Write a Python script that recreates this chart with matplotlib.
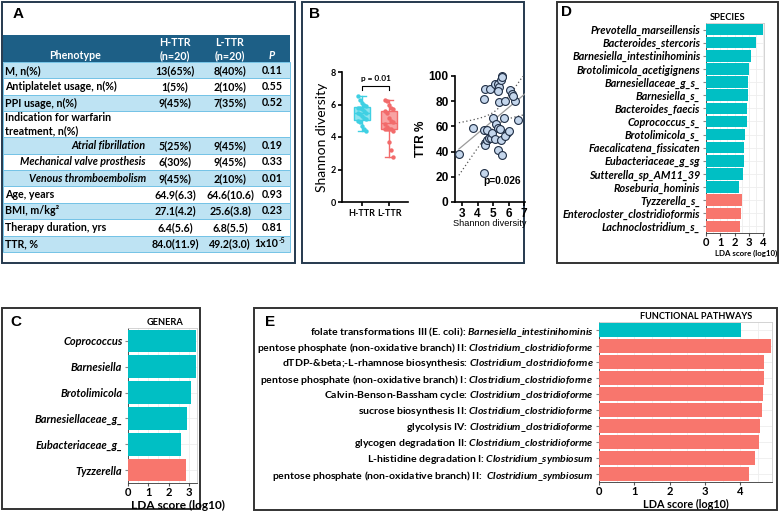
import matplotlib.pyplot as plt
from matplotlib.patches import Rectangle
import numpy as np

plt.rcParams['mathtext.fontset'] = 'custom'
plt.rcParams['mathtext.it'] = 'Lato:italic:bold'
plt.rcParams['mathtext.rm'] = 'Lato:bold'
plt.rcParams['mathtext.bf'] = 'Lato:bold'

W, H = 779, 512
TEAL = '#00BFC4'
SALMON = '#F8766D'

# ---- panel A table ----
phenotype = ["M, n(%)", "Antiplatelet usage, n(%)", "PPI usage, n(%)",
             "Indication for warfarin\ntreatment, n(%)", "Atrial fibrillation",
             "Mechanical valve prosthesis", "Venous thromboembolism", "Age, years",
             "BMI, m/kg\u00b2", "Therapy duration, yrs", "TTR, %"]
sub_item = [False, False, False, False, True, True, True, False, False, False, False]
h_ttr = ["13(65%)", "1(5%)", "9(45%)", "", "5(25%)", "6(30%)", "9(45%)",
         "64.9(6.3)", "27.1(4.2)", "6.4(5.6)", "84.0(11.9)"]
l_ttr = ["8(40%)", "2(10%)", "7(35%)", "", "9(45%)", "9(45%)", "2(10%)",
         "64.6(10.6)", "25.6(3.8)", "6.8(5.5)", "49.2(3.0)"]
p_vals = ["0.11", "0.55", "0.52", "", "0.19", "0.33", "0.01", "0.93", "0.23", "0.81", "1x10"]

# ---- panel B ----
groups = ["H-TTR", "L-TTR"]
shannon_h = [6.5, 6.3, 6.1, 6.0, 5.9, 5.8, 5.8, 5.7, 5.6, 5.5, 5.5, 5.4, 5.3, 5.2, 5.1,
             5.0, 4.9, 4.7, 4.5, 4.4]
shannon_l = [6.3, 6.2, 6.0, 5.8, 5.7, 5.6, 5.5, 5.2, 5.0, 4.9, 4.8, 4.6, 4.5, 4.5, 4.4,
             4.5, 4.5, 3.7, 3.2, 2.8]
div_x = [2.83, 3.7, 4.4, 4.45, 4.5, 4.8, 4.4, 4.6, 4.5, 4.5, 4.6, 4.75, 4.9, 4.95, 5.0,
         5.1, 5.2, 5.3, 5.35, 5.45, 5.5, 5.6, 5.15, 5.35, 5.4, 5.3, 5.55, 5.5, 5.6, 5.4,
         5.7, 5.8, 5.9, 5.8, 6.0, 6.1, 6.2, 6.4, 6.3, 6.6]
ttr_y = [38, 59, 23, 82, 90, 90, 57, 57, 47, 45, 49, 51, 51, 55, 67, 50, 62, 41, 59, 58,
         49, 37, 94, 94, 91, 88, 100, 97, 99, 79, 67, 80, 55, 52, 56, 89, 86, 80, 84, 65]

# ---- panel C ----
genera = ["Coprococcus", "Barnesiella", "Brotolimicola", "Barnesiellaceae_g_",
          "Eubacteriaceae_g_", "Tyzzerella"]
genera_lda = [3.36, 3.33, 3.1, 2.9, 2.6, 2.84]
genera_grp = ["H", "H", "H", "H", "H", "L"]

# ---- panel D ----
species = ["Prevotella_marseillensis", "Bacteroides_stercoris", "Barnesiella_intestinihominis",
           "Brotolimicola_acetigignens", "Barnesiellaceae_g_s_", "Barnesiella_s_",
           "Bacteroides_faecis", "Coprococcus_s_", "Brotolimicola_s_",
           "Faecalicatena_fissicaten", "Eubacteriaceae_g_sg", "Sutterella_sp_AM11_39",
           "Roseburia_hominis", "Tyzzerella_s_", "Enterocloster_clostridioformis",
           "Lachnoclostridium_s_"]
species_lda = [3.96, 3.5, 3.15, 3.03, 2.9, 2.9, 2.85, 2.85, 2.73, 2.66, 2.64, 2.6, 2.27,
               2.52, 2.43, 2.4]
species_grp = ["H"] * 13 + ["L"] * 3

# ---- panel E ----
pathways = ["folate transformations III (E. coli):",
            "pentose phosphate (non-oxidative branch) II:",
            "dTDP-&beta;-L-rhamnose biosynthesis:",
            "pentose phosphate (non-oxidative branch) I:",
            "Calvin-Benson-Bassham cycle:", "sucrose biosynthesis II:", "glycolysis IV:",
            "glycogen degradation II:", "L-histidine degradation I:",
            "pentose phosphate (non-oxidative branch) II: "]
pathway_taxa = ["Barnesiella_intestinihominis"] + ["Clostridium_clostridioforme"] * 7 + \
               ["Clostridium_symbiosum"] * 2
pathway_lda = [4.02, 4.87, 4.68, 4.66, 4.64, 4.63, 4.57, 4.53, 4.42, 4.26]
pathway_grp = ["H"] + ["L"] * 9


fig = plt.figure(figsize=(W / 100, H / 100), dpi=100)
bg = fig.add_axes([0, 0, 1, 1])
bg.set_xlim(0, W)
bg.set_ylim(H, 0)
bg.axis('off')

# groups of texts scaled so one sample text gets the pixel width seen in the reference
fit_groups = []


def px_ax(l, t, r, b):
    return fig.add_axes([l / W, 1 - b / H, (r - l) / W, (b - t) / H])


def box(l, t, r, b, color):
    bg.add_patch(Rectangle((l, t), r - l, b - t, fill=False, ec=color, lw=1.4))


box(2, 2, 295, 263, '#25394E')
box(302, 2, 524, 263, '#25394E')
box(557, 2, 778, 263, '#333333')
box(2, 308, 200, 509, '#333333')
box(254, 308, 777, 510, '#333333')

for lab, x, y in [("A", 18, 14), ("B", 315, 14), ("C", 16, 322), ("D", 567, 12), ("E", 270, 322)]:
    bg.text(x, y, lab, fontsize=11, fontweight='bold', family='Liberation Sans',
            ha='center', va='center')

# table
tx0, tx1 = 3, 290
col_h, col_l, col_p = 175, 230, 272
top = 35
head_h = 27
bg.add_patch(Rectangle((tx0, top), tx1 - tx0, head_h, color='#1D5F86', lw=0))
hk = dict(color='white', fontsize=7, fontweight='bold', family='Lato', ha='center')
table_txt = []
table_txt.append(bg.text(75, top + 20.5, "Phenotype", va='center', **hk))
for cx, g in [(col_h, "H-TTR"), (col_l, "L-TTR")]:
    table_txt.append(bg.text(cx, top + 7.5, g, va='center', **hk))
    table_txt.append(bg.text(cx, top + 20.5, "(n=20)", va='center', **hk))
table_txt.append(bg.text(col_p, top + 20.5, "P", va='center', fontstyle='italic', **hk))

y = top + head_h
tk = dict(fontsize=7, fontweight='bold', family='Lato', va='center', color='black')
sample_row = None
for i, ph in enumerate(phenotype):
    rh = 26 if "\n" in ph else 16.4
    shade = '#BEE3F3' if i % 2 == 0 else 'white'
    bg.add_patch(Rectangle((tx0, y), tx1 - tx0, rh, fc=shade, ec='#74C3E6', lw=0.7))
    yc = y + rh / 2
    if sub_item[i]:
        t = bg.text(146, yc, ph, ha='right', fontstyle='italic', **tk)
    else:
        t = bg.text(5, yc, ph, ha='left', linespacing=1.3, **tk)
    if i == 1:
        sample_row = t
    table_txt.append(t)
    table_txt.append(bg.text(col_h, yc, h_ttr[i], ha='center', **tk))
    table_txt.append(bg.text(col_l, yc, l_ttr[i], ha='center', **tk))
    if p_vals[i] == "1x10":
        table_txt.append(bg.text(col_p + 6, yc, p_vals[i], ha='right', **tk))
        bg.text(col_p + 6.5, yc - 3, "-5", ha='left', fontsize=5, fontweight='bold',
                family='Lato', va='center', color='black')
    else:
        table_txt.append(bg.text(col_p, yc, p_vals[i], ha='center', **tk))
    y += rh
fit_groups.append((table_txt, sample_row, 112, 'w'))

# ---- B: box plot ----
axb = px_ax(342, 72, 408, 202)
h_col, h_fill = '#3FD0E3', '#8FE4EF'
l_col, l_fill = '#F26B6B', '#F8A3A3'
bp = axb.boxplot([shannon_h, shannon_l], positions=[1, 2], widths=0.6, whis=(0, 100),
                 patch_artist=True, showfliers=False)
for k, (c, f) in enumerate([(h_col, h_fill), (l_col, l_fill)]):
    bp['boxes'][k].set(facecolor=f, edgecolor=c, lw=1)
    bp['medians'][k].set(color=c, lw=1)
    for w in bp['whiskers'][2 * k:2 * k + 2] + bp['caps'][2 * k:2 * k + 2]:
        w.set(color=c, lw=1)
for k, (vals, c) in enumerate([(shannon_h, h_col), (shannon_l, l_col)]):
    offs = [((i % 5) - 2) * 0.07 for i in range(len(vals))]
    axb.scatter([k + 1 + o for o in offs], vals, s=10, color=c, zorder=3, lw=0)
axb.set_xlim(0.26, 2.7)
axb.set_ylim(0, 8)
axb.set_yticks([0, 2, 4, 6, 8])
axb.set_xticks([1, 2])
axb.set_xticklabels(groups, fontsize=7, fontweight='bold', family='Lato')
axb.tick_params(axis='y', labelsize=7, width=1.2, length=3, pad=1.5)
axb.tick_params(axis='x', width=1.2, length=3, pad=2)
for t in axb.get_yticklabels():
    t.set_family('Lato')
    t.set_fontweight('bold')
axb.set_ylabel("Shannon diversity", fontsize=10, family='Lato', labelpad=2)
for s in ['top', 'right']:
    axb.spines[s].set_visible(False)
for s in ['left', 'bottom']:
    axb.spines[s].set_linewidth(1.2)
axb.plot([1, 1, 2, 2], [6.9, 7.15, 7.15, 6.9], color='black', lw=0.8, clip_on=False)
pt = axb.text(1.5, 7.6, "p = 0.01", ha='center', va='center', fontsize=6, fontweight='bold',
              family='Lato')
fit_groups.append((list(axb.get_xticklabels()) + list(axb.get_yticklabels()),
                   axb.get_xticklabels()[0], 27, 'w'))
fit_groups.append(([pt], pt, 30, 'w'))

# ---- B: scatter ----
axs = px_ax(455, 76, 525, 202)
axs.patch.set_alpha(0)
xs = np.array(div_x)
ys = np.array(ttr_y)
slope, icpt = np.polyfit(xs, ys, 1)
xg = np.linspace(2.8, 7.1, 60)
yg = slope * xg + icpt
n = len(xs)
resid = ys - (slope * xs + icpt)
s_err = np.sqrt(np.sum(resid ** 2) / (n - 2))
se = s_err * np.sqrt(1 / n + (xg - xs.mean()) ** 2 / np.sum((xs - xs.mean()) ** 2))
axs.plot(xg, yg, color='#9A9A9A', lw=0.9)
axs.plot(xg, yg + 2.024 * se, color='#555555', lw=0.9, ls=(0, (1, 2)))
axs.plot(xg, yg - 2.024 * se, color='#555555', lw=0.9, ls=(0, (1, 2)))
axs.scatter(xs, ys, s=32, facecolor='#C4D6EC', edgecolor='#1E2D44', lw=0.8, zorder=3,
            clip_on=False)
axs.set_xlim(2.55, 7.06)
axs.set_ylim(0, 100)
axs.set_xticks([3, 4, 5, 6, 7])
axs.set_yticks([0, 20, 40, 60, 80, 100])
axs.tick_params(labelsize=8, width=1.2, length=3, pad=1.5)
for t in axs.get_xticklabels() + axs.get_yticklabels():
    t.set_family('Liberation Sans')
    t.set_fontweight('bold')
for s in ['top', 'right']:
    axs.spines[s].set_visible(False)
for s in ['left', 'bottom']:
    axs.spines[s].set_linewidth(1.2)
axs.set_ylabel("TTR %", fontsize=8.5, fontweight='bold', family='Liberation Sans', labelpad=1)
axs.set_xlabel("Shannon diversity", fontsize=7.5, family='Liberation Sans', labelpad=-1)
pv = axs.text(4.35, 17, "p=0.026", fontsize=7.5, fontweight='bold', family='Liberation Sans',
              ha='left', va='center')
fit_groups.append((list(axs.get_xticklabels()) + list(axs.get_yticklabels()),
                   axs.get_yticklabels()[-1], 20, 'w'))
fit_groups.append(([axs.xaxis.label], axs.xaxis.label, 72, 'w'))
fit_groups.append(([pv], pv, 38, 'w'))


# ---- LDA bar panels ----
def lda_panel(ax, labels, vals, grp, xmax, xticks, title, title_x, xlab_x, xlab_fs):
    yy = np.arange(len(vals))
    cols = [TEAL if g == "H" else SALMON for g in grp]
    ax.barh(yy, vals, height=0.88, color=cols, zorder=3)
    ax.set_ylim(len(vals) - 0.5, -0.5)
    ax.set_xlim(0, xmax)
    ax.set_xticks(xticks)
    ax.set_xticks(np.arange(0.5, xmax, 1), minor=True)
    ax.set_yticks(yy)
    ax.set_yticklabels(labels, fontsize=7, fontweight='bold', fontstyle='italic',
                       family='Lato')
    ax.grid(which='both', color='#EEEEEE', lw=0.6, zorder=0)
    ax.tick_params(axis='y', length=2, color='#888888', pad=2)
    ax.tick_params(axis='x', which='major', length=2, color='#555555', pad=1, labelsize=8)
    ax.tick_params(axis='x', which='minor', length=0)
    for t in ax.get_xticklabels():
        t.set_family('Lato')
        t.set_fontweight('bold')
    for s in ax.spines.values():
        s.set_color('#CCCCCC')
        s.set_linewidth(0.6)
    ax.spines['bottom'].set_color('#333333')
    ax.spines['left'].set_color('#333333')
    ax.set_title(title, fontsize=7, fontweight='bold', family='Lato', pad=2, x=title_x)
    ax.set_xlabel("LDA score (log10)", fontsize=xlab_fs, fontweight='bold', family='Lato',
                  labelpad=1)
    ax.xaxis.label.set_x(xlab_x)


axc = px_ax(128, 328, 197, 483)
lda_panel(axc, genera, genera_lda, genera_grp, 3.4, [0, 1, 2, 3], "GENERA", 0.54, 0.72, 8.6)
fit_groups.append((axc.get_yticklabels(), axc.get_yticklabels()[3], 89, 'w'))
fit_groups.append(([axc.title], axc.title, 37, 'w'))

axd = px_ax(706, 23, 764, 233)
lda_panel(axd, species, species_lda, species_grp, 4.05, [0, 1, 2, 3, 4], "SPECIES", 0.38,
          0.69, 7)
fit_groups.append((axd.get_yticklabels(), axd.get_yticklabels()[14], 138, 'w'))
fit_groups.append(([axd.title], axd.title, 36, 'w'))
fit_groups.append(([axd.xaxis.label], axd.xaxis.label, 63, 'w'))

axe = px_ax(599, 322, 772, 482)
e_labels = [p + " $\\mathit{" + t.replace("_", "\\_") + "}$"
            for p, t in zip(pathways, pathway_taxa)]
lda_panel(axe, e_labels, pathway_lda, pathway_grp, 4.9, [0, 1, 2, 3, 4],
          "FUNCTIONAL PATHWAYS", 0.56, 0.5, 7.8)
for t in axe.get_yticklabels():
    t.set_fontstyle('normal')
fit_groups.append((axe.get_yticklabels(), axe.get_yticklabels()[3], 333, 'w'))
fit_groups.append(([axe.title], axe.title, 113, 'w'))

# scale each text group to the measured reference width
fig.canvas.draw()
rend = fig.canvas.get_renderer()
scales = []
for texts, ref, target, dim in fit_groups:
    bb = ref.get_window_extent(rend)
    size = bb.width if dim == 'w' else bb.height
    scales.append(target / size)
for (texts, ref, target, dim), k in zip(fit_groups, scales):
    for t in texts:
        t.set_fontsize(t.get_fontsize() * k)
for ax in (axc, axd, axe):
    ax.tick_params(axis='y', labelsize=ax.get_yticklabels()[0].get_fontsize())
axs.tick_params(labelsize=axs.get_yticklabels()[0].get_fontsize())
axb.tick_params(labelsize=axb.get_xticklabels()[0].get_fontsize())

fig.savefig("out.png", dpi=100)
